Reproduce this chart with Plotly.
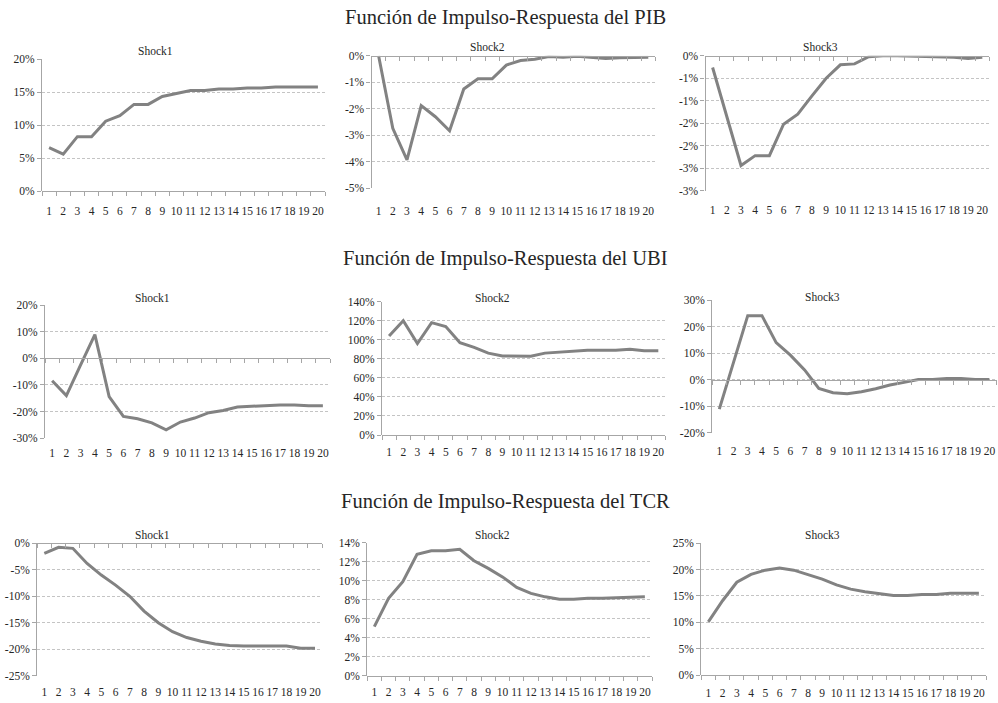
import plotly.graph_objects as go

periods = list(range(1, 21))

# Valores en %
pib_shock1 = [6.6, 5.6, 8.25, 8.25, 10.6, 11.45, 13.15, 13.15, 14.35, 14.8, 15.25, 15.25, 15.5, 15.5, 15.65, 15.65, 15.8, 15.8, 15.8, 15.8]
pib_shock2 = [0.0, -2.74, -3.93, -1.88, -2.3, -2.83, -1.25, -0.87, -0.87, -0.35, -0.18, -0.13, -0.03, -0.05, -0.02, -0.06, -0.1, -0.07, -0.05, -0.05]
pib_shock3 = [-0.26, -1.35, -2.44, -2.22, -2.22, -1.52, -1.3, -0.89, -0.5, -0.2, -0.18, -0.02, 0.0, 0.0, -0.01, -0.02, -0.03, -0.03, -0.06, -0.03]
ubi_shock1 = [-8.4, -14.0, -2.5, 8.9, -14.4, -21.8, -22.7, -24.2, -26.8, -23.9, -22.4, -20.4, -19.6, -18.3, -18.0, -17.7, -17.5, -17.5, -17.8, -17.8]
ubi_shock2 = [104, 120, 96, 118, 114, 97, 92, 86, 83, 82.7, 82.7, 86, 87, 88, 89, 89, 89, 90, 88.6, 88.6]
ubi_shock3 = [-11.1, 6.8, 24.2, 24.2, 14.0, 9.3, 3.7, -3.3, -4.9, -5.3, -4.5, -3.4, -2.0, -1.0, 0.1, 0.1, 0.5, 0.5, 0.1, 0.1]
tcr_shock1 = [-1.9, -0.76, -0.95, -3.8, -6.0, -7.9, -10.0, -12.8, -15.0, -16.7, -17.8, -18.5, -19.0, -19.3, -19.4, -19.4, -19.4, -19.4, -19.8, -19.8]
tcr_shock2 = [5.16, 8.14, 9.9, 12.77, 13.16, 13.16, 13.3, 12.1, 11.3, 10.4, 9.3, 8.67, 8.3, 8.04, 8.04, 8.14, 8.14, 8.2, 8.3, 8.3]
tcr_shock3 = [10.1, 14.1, 17.6, 19.1, 19.9, 20.3, 19.9, 19.1, 18.2, 17.1, 16.3, 15.8, 15.4, 15.1, 15.1, 15.3, 15.3, 15.5, 15.5, 15.5]

row_titles = ["Función de Impulso-Respuesta del PIB",
              "Función de Impulso-Respuesta del UBI",
              "Función de Impulso-Respuesta del TCR"]
shock_names = ["Shock1", "Shock2", "Shock3"]

# y tick values and labels
ticks_pib1 = [0, 5, 10, 15, 20]
ticks_pib2 = [-5, -4, -3, -2, -1, 0]
ticks_pib3 = [-3, -2.5, -2, -1.5, -1, -0.5, 0]
labels_pib3 = ["-3%", "-3%", "-2%", "-2%", "-1%", "-1%", "0%"]
ticks_ubi1 = [-30, -20, -10, 0, 10, 20]
ticks_ubi2 = [0, 20, 40, 60, 80, 100, 120, 140]
ticks_ubi3 = [-20, -10, 0, 10, 20, 30]
ticks_tcr1 = [-25, -20, -15, -10, -5, 0]
ticks_tcr2 = [0, 2, 4, 6, 8, 10, 12, 14]
ticks_tcr3 = [0, 5, 10, 15, 20, 25]

W, H = 998, 703

def px_x(v):
    return v / W

def px_y(v):
    return 1 - v / H

def fmt(t):
    return ("%g" % t) + "%"

panels = [
    dict(data=pib_shock1, ticks=ticks_pib1, labels=None, xdom=(42, 325), ydom=(59.3, 191), title=(155, 51), stand=11),
    dict(data=pib_shock2, ticks=ticks_pib2, labels=None, xdom=(371.5, 655.4), ydom=(55.8, 188.3), title=(487, 47), stand=14),
    dict(data=pib_shock3, ticks=ticks_pib3, labels=labels_pib3, xdom=(705.5, 989.4), ydom=(55.8, 190.7), title=(820, 47), stand=11),
    dict(data=ubi_shock1, ticks=ticks_ubi1, labels=None, xdom=(45, 330), ydom=(305, 438.3), title=(152, 298), stand=6),
    dict(data=ubi_shock2, ticks=ticks_ubi2, labels=None, xdom=(382, 665.4), ydom=(301.7, 435), title=(492, 298), stand=8),
    dict(data=ubi_shock3, ticks=ticks_ubi3, labels=None, xdom=(712.2, 996.5), ydom=(300.3, 432.7), title=(822, 297), stand=10),
    dict(data=tcr_shock1, ticks=ticks_tcr1, labels=None, xdom=(37.2, 322.1), ydom=(543.3, 675.7), title=(152, 535), stand=8),
    dict(data=tcr_shock2, ticks=ticks_tcr2, labels=None, xdom=(367.2, 652), ydom=(542.7, 675.7), title=(492, 535), stand=8),
    dict(data=tcr_shock3, ticks=ticks_tcr3, labels=None, xdom=(701.2, 986), ydom=(543.3, 675), title=(822, 535), stand=9),
]

FONT = "Liberation Serif"
LINE_COLOR = "#828282"
AXIS_COLOR = "#a6a6a6"
GRID_COLOR = "#c4c4c4"
TEXT_COLOR = "#262626"

fig = go.Figure()
layout = dict(
    width=W, height=H, autosize=False,
    margin=dict(l=0, r=0, t=0, b=0, pad=0, autoexpand=False),
    paper_bgcolor="white", plot_bgcolor="white",
    showlegend=False,
    font=dict(family=FONT, color=TEXT_COLOR, size=11),
)
annotations = []

n = len(panels)
for i, p in enumerate(panels):
    k = i + 1
    xa = "x" if k == 1 else f"x{k}"
    ya = "y" if k == 1 else f"y{k}"
    xk = "xaxis" if k == 1 else f"xaxis{k}"
    yk = "yaxis" if k == 1 else f"yaxis{k}"
    ok = n + k  # overlay axis for the category axis line at 0
    oxk = f"xaxis{ok}"

    fig.add_trace(go.Scatter(x=periods, y=p["data"], mode="lines",
                             line=dict(color=LINE_COLOR, width=3),
                             xaxis=xa, yaxis=ya, hoverinfo="skip"))

    ymin, ymax = min(p["ticks"]), max(p["ticks"])
    xd = (px_x(p["xdom"][0]), px_x(p["xdom"][1]))
    yd = (px_y(p["ydom"][1]), px_y(p["ydom"][0]))
    labels = p["labels"] if p["labels"] else [fmt(t) for t in p["ticks"]]

    layout[xk] = dict(domain=list(xd), anchor=ya, range=[0.5, 20.5],
                      tickvals=periods, ticktext=[str(v) for v in periods],
                      showline=False, showgrid=False, zeroline=False, ticks="",
                      tickfont=dict(size=11.5, family=FONT, color=TEXT_COLOR),
                      ticklabelstandoff=int(p["stand"]),
                      fixedrange=True)
    layout[yk] = dict(domain=list(yd), anchor=xa, range=[ymin, ymax],
                      tickvals=p["ticks"], ticktext=labels,
                      showline=True, linecolor=AXIS_COLOR, linewidth=1.3,
                      ticks="outside", ticklen=4, tickcolor=AXIS_COLOR,
                      showgrid=True, gridcolor=GRID_COLOR, griddash="3px,2px", gridwidth=1,
                      zeroline=False,
                      tickfont=dict(size=11.5, family=FONT, color=TEXT_COLOR),
                      fixedrange=True)
    # overlay category axis line placed at value 0
    pos = yd[0] + (0 - ymin) / (ymax - ymin) * (yd[1] - yd[0])
    layout[oxk] = dict(domain=list(xd), anchor="free", position=pos, overlaying=xa,
                       range=[0.5, 20.5], tickvals=[v + 0.5 for v in [0] + periods],
                       showticklabels=False, ticks="outside", ticklen=4, tickcolor=AXIS_COLOR,
                       showline=True, linecolor=AXIS_COLOR, linewidth=1.3,
                       showgrid=False, zeroline=False, fixedrange=True)
    fig.add_trace(go.Scatter(x=[None], y=[None], xaxis=f"x{ok}", yaxis=ya,
                             showlegend=False, hoverinfo="skip"))

    annotations.append(dict(text=shock_names[i % 3], x=px_x(p["title"][0]), y=px_y(p["title"][1]),
                            xref="paper", yref="paper", xanchor="center", yanchor="middle",
                            showarrow=False, font=dict(size=11.5, family=FONT, color=TEXT_COLOR)))

for r, (t, yy) in enumerate(zip(row_titles, [18, 258, 501])):
    annotations.append(dict(text=t, x=px_x(505), y=px_y(yy), xref="paper", yref="paper",
                            xanchor="center", yanchor="middle", showarrow=False,
                            font=dict(size=20.5, family=FONT, color=TEXT_COLOR)))

layout["annotations"] = annotations
fig.update_layout(**layout)
fig.write_html("out.html", config={"displayModeBar": False},
               post_script="document.body.style.margin='0';document.body.style.overflow='hidden';")
